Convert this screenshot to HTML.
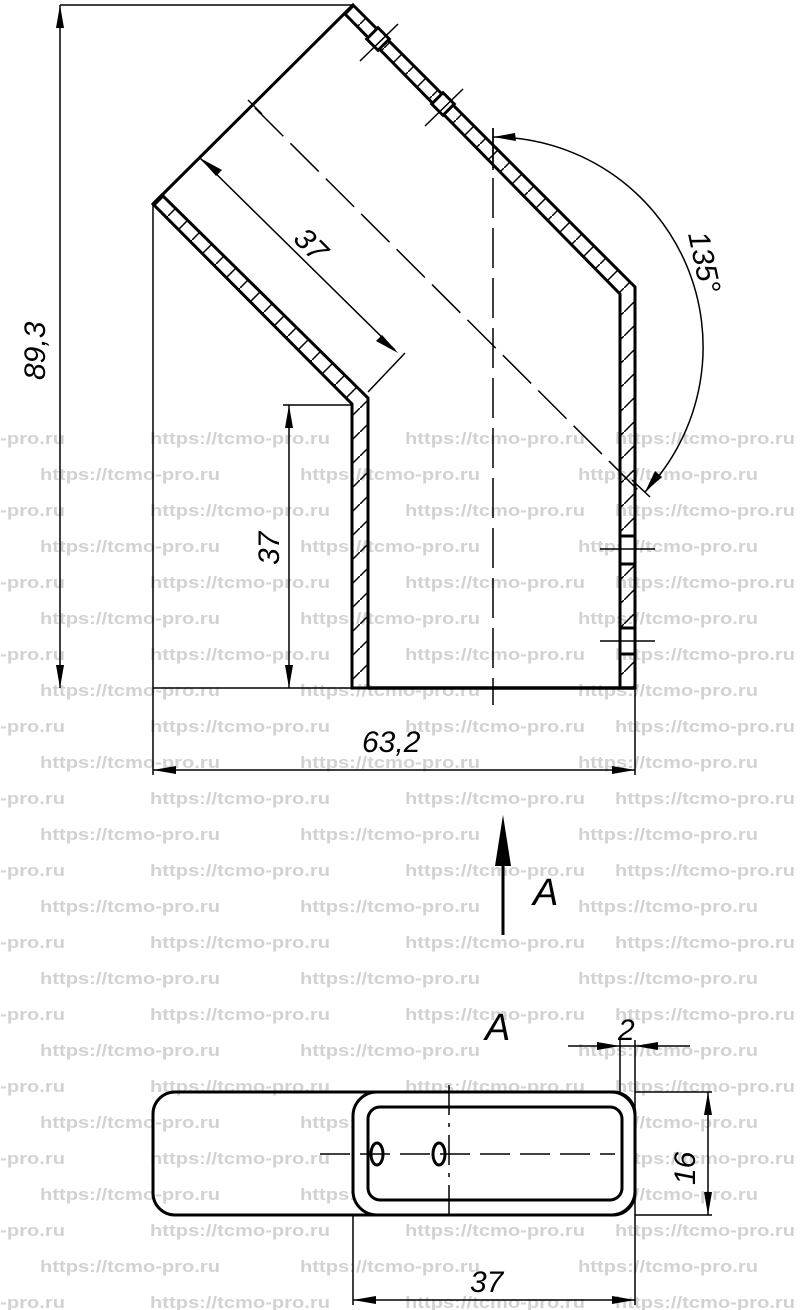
<!DOCTYPE html>
<html><head><meta charset="utf-8"><style>
html,body{margin:0;padding:0;background:#fff}
svg{display:block}
.wm{font-family:"Liberation Sans",sans-serif;font-weight:bold;font-size:17px;fill:#d2d2d2}
.t{font-family:"Liberation Sans",sans-serif;font-style:italic;font-size:30px;fill:#000}
</style></head><body>
<svg width="800" height="1310" viewBox="0 0 800 1310" xmlns="http://www.w3.org/2000/svg">
<defs>
<pattern id="h" patternUnits="userSpaceOnUse" width="24" height="24">
<line x1="-2" y1="26" x2="26" y2="-2" stroke="#000" stroke-width="1.5"/>
</pattern>
</defs>
<g class="wm">
<g id="rA">
<text x="-115" y="444" textLength="180" lengthAdjust="spacingAndGlyphs">https://tcmo-pro.ru</text>
<text x="150" y="444" textLength="180" lengthAdjust="spacingAndGlyphs">https://tcmo-pro.ru</text>
<text x="405" y="444" textLength="180" lengthAdjust="spacingAndGlyphs">https://tcmo-pro.ru</text>
<text x="615" y="444" textLength="180" lengthAdjust="spacingAndGlyphs">https://tcmo-pro.ru</text>
</g>
<g id="rB">
<text x="40" y="480" textLength="180" lengthAdjust="spacingAndGlyphs">https://tcmo-pro.ru</text>
<text x="300" y="480" textLength="180" lengthAdjust="spacingAndGlyphs">https://tcmo-pro.ru</text>
<text x="578" y="480" textLength="180" lengthAdjust="spacingAndGlyphs">https://tcmo-pro.ru</text>
</g>
<use href="#rA" y="72"/><use href="#rB" y="72"/>
<use href="#rA" y="144"/><use href="#rB" y="144"/>
<use href="#rA" y="216"/><use href="#rB" y="216"/>
<use href="#rA" y="288"/><use href="#rB" y="288"/>
<use href="#rA" y="360"/><use href="#rB" y="360"/>
<use href="#rA" y="432"/><use href="#rB" y="432"/>
<use href="#rA" y="504"/><use href="#rB" y="504"/>
<use href="#rA" y="576"/><use href="#rB" y="576"/>
<use href="#rA" y="648"/><use href="#rB" y="648"/>
<use href="#rA" y="720"/><use href="#rB" y="720"/>
<use href="#rA" y="792"/><use href="#rB" y="792"/>
<use href="#rA" y="864"/>
</g>

<g stroke="#000" fill="none">
<polygon points="153,204 162,195 368,398 368,688 352,688 352,404" fill="url(#h)" stroke-width="3"/>
<polygon points="353,5 635,287 635,688 620,688 620,294 345,14" fill="url(#h)" stroke-width="3"/>
<line x1="153" y1="204" x2="353" y2="5" stroke-width="3"/>
<line x1="153" y1="204" x2="153" y2="775" stroke-width="1.5"/>
<line x1="153" y1="688" x2="368" y2="688" stroke-width="1.5"/>
<line x1="368" y1="688" x2="635" y2="688" stroke-width="3.5"/>
<line x1="635" y1="688" x2="635" y2="775" stroke-width="1.5"/>
<rect x="620" y="536" width="15" height="28" fill="#fff" stroke-width="3"/>
<rect x="620" y="628" width="15" height="26" fill="#fff" stroke-width="3"/>
<line x1="600" y1="549" x2="655" y2="549" stroke-width="1.5"/>
<line x1="600" y1="641" x2="655" y2="641" stroke-width="1.5"/>
<rect x="-8" y="-8" width="16" height="16" fill="#fff" stroke-width="3" transform="translate(378,39) rotate(45)"/>
<rect x="-8" y="-8" width="16" height="16" fill="#fff" stroke-width="3" transform="translate(443,104) rotate(45)"/>
<line x1="360" y1="61" x2="398" y2="24" stroke-width="1.5"/>
<line x1="425" y1="126" x2="463" y2="89" stroke-width="1.5"/>
<line x1="493" y1="128" x2="493" y2="705" stroke-width="1.5" stroke-dasharray="40,10"/>
<line x1="255" y1="108" x2="640" y2="492" stroke-width="1.5" stroke-dasharray="40,10"/>
<line x1="248" y1="100" x2="262" y2="114" stroke-width="1.5"/>
<line x1="60" y1="5" x2="353" y2="5" stroke-width="1.5"/>
<line x1="60" y1="5" x2="60" y2="688" stroke-width="1.5"/>
<path d="M60,5 L56,28 L64,28Z M60,688 L56,665 L64,665Z" fill="#000" stroke="none"/>
<line x1="153" y1="770" x2="635" y2="770" stroke-width="1.5"/>
<path d="M153,770 L176,766 L176,774Z M635,770 L612,766 L612,774Z" fill="#000" stroke="none"/>
<line x1="283" y1="405" x2="352" y2="405" stroke-width="1.5"/>
<line x1="289" y1="405" x2="289" y2="688" stroke-width="1.5"/>
<path d="M289,405 L285,428 L293,428Z M289,688 L285,665 L293,665Z" fill="#000" stroke="none"/>
<line x1="200" y1="158" x2="395" y2="350" stroke-width="1.5"/>
<line x1="368" y1="392" x2="405" y2="353" stroke-width="1.5"/>
<path d="M200,158 L222,170 L216,176Z M398,353 L376,341 L382,335Z" fill="#000" stroke="none"/>
<path d="M493,137 A210,210 0 0 1 645,492" stroke-width="1.5"/>
<line x1="493" y1="128" x2="493" y2="170" stroke-width="1.5"/>
<line x1="632" y1="480" x2="650" y2="497" stroke-width="1.5"/>
<path d="M493,137 L515,133 L516,141Z M645,492 L655,471 L662,477Z" fill="#000" stroke="none"/>
<line x1="503" y1="850" x2="503" y2="935" stroke-width="3"/>
<path d="M503,815 L495,866 L511,866Z" fill="#000" stroke="none"/>

<rect x="153" y="1092" width="482" height="123" rx="22" stroke-width="3"/>
<rect x="353" y="1092" width="282" height="123" rx="24" fill="#fff" stroke-width="3"/>
<rect x="368" y="1107" width="254" height="93" rx="12" stroke-width="3"/>
<ellipse cx="377" cy="1154" rx="6" ry="11" stroke-width="3"/>
<ellipse cx="439" cy="1154" rx="6" ry="11" stroke-width="3"/>
<line x1="320" y1="1154" x2="615" y2="1154" stroke-width="1.5" stroke-dasharray="30,10"/>
<line x1="449" y1="1085" x2="449" y2="1222" stroke-width="1.5" stroke-dasharray="30,8,4,8"/>
<line x1="635" y1="1092" x2="712" y2="1092" stroke-width="1.5"/>
<line x1="635" y1="1215" x2="712" y2="1215" stroke-width="1.5"/>
<line x1="708" y1="1092" x2="708" y2="1215" stroke-width="1.5"/>
<path d="M708,1092 L704,1115 L712,1115Z M708,1215 L704,1192 L712,1192Z" fill="#000" stroke="none"/>
<line x1="620" y1="1040" x2="620" y2="1092" stroke-width="1.5"/>
<line x1="635" y1="1040" x2="635" y2="1305" stroke-width="1.5"/>
<line x1="568" y1="1046" x2="690" y2="1046" stroke-width="1.5"/>
<path d="M620,1046 L597,1042 L597,1050Z M635,1046 L658,1042 L658,1050Z" fill="#000" stroke="none"/>
<line x1="353" y1="1215" x2="353" y2="1305" stroke-width="1.5"/>
<line x1="353" y1="1300" x2="635" y2="1300" stroke-width="1.5"/>
<path d="M353,1300 L376,1296 L376,1304Z M635,1300 L612,1296 L612,1304Z" fill="#000" stroke="none"/>
</g>

<g class="t">
<text transform="translate(45,380) rotate(-90)">89,3</text>
<text x="362" y="752">63,2</text>
<text transform="translate(279,565) rotate(-90)">37</text>
<text transform="translate(292,240) rotate(45)">37</text>
<text transform="translate(688,234) rotate(78)">135°</text>
<text x="533" y="905" font-size="38">A</text>
<text x="485" y="1040" font-size="38">A</text>
<text x="618" y="1040">2</text>
<text transform="translate(695,1185) rotate(-90)">16</text>
<text x="470" y="1292">37</text>
</g>
</svg>
</body></html>
